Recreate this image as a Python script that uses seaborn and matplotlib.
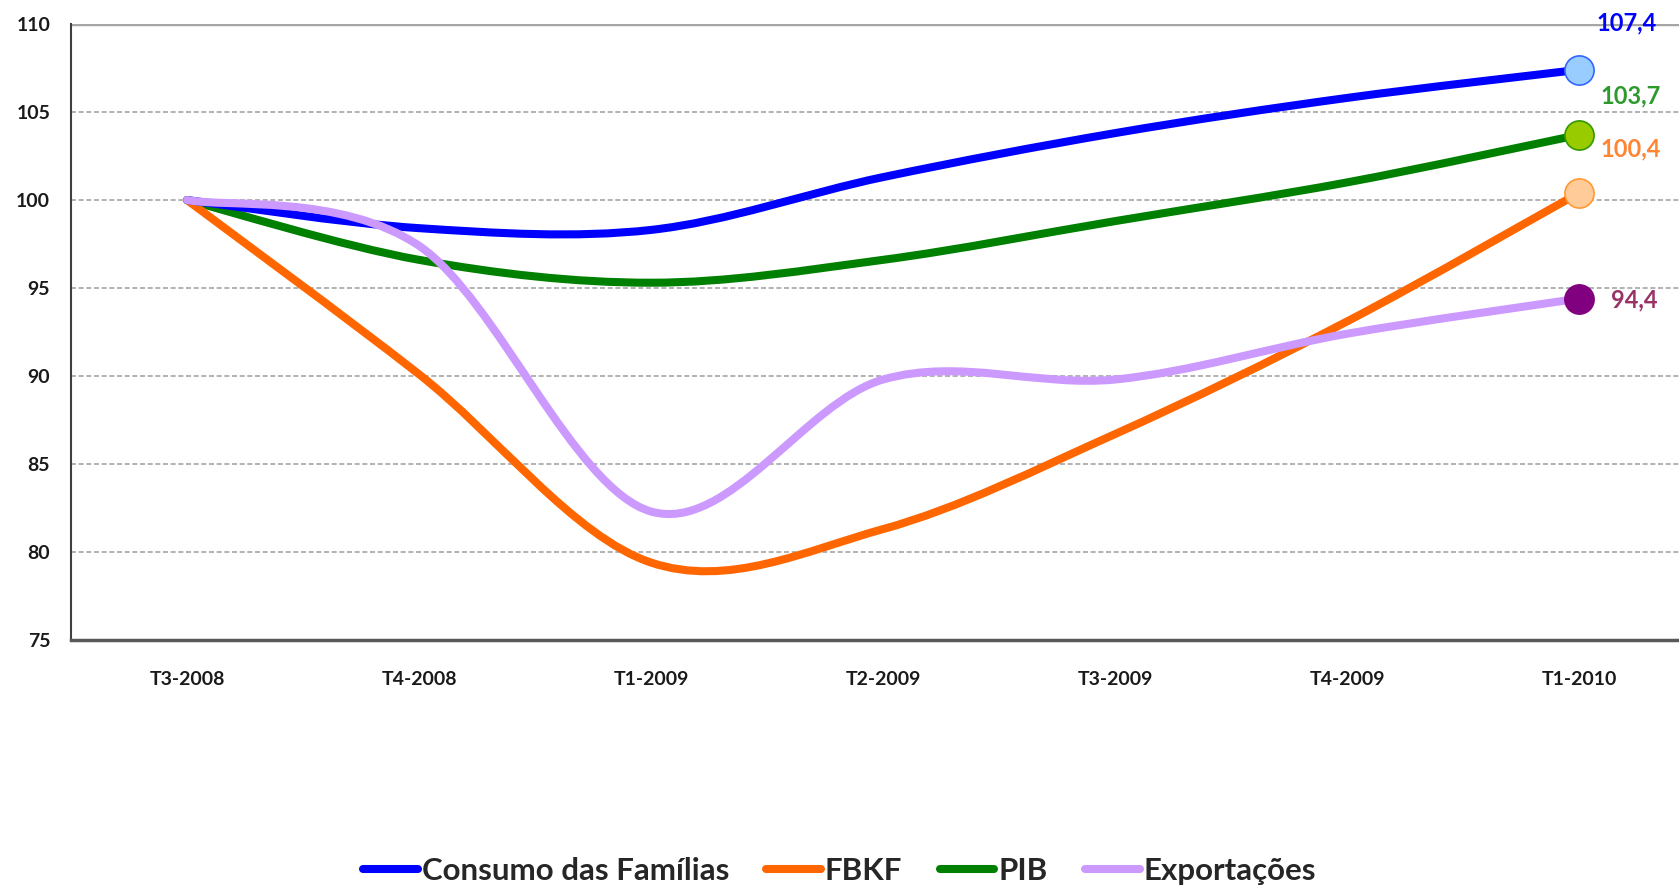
import numpy as np
import pandas as pd
import seaborn as sns
import matplotlib.pyplot as plt
from matplotlib.path import Path
from matplotlib.patches import PathPatch
from matplotlib.lines import Line2D
from matplotlib import font_manager

quarters = ['T3-2008', 'T4-2008', 'T1-2009', 'T2-2009', 'T3-2009', 'T4-2009', 'T1-2010']
consumo = [100.0, 98.4, 98.3, 101.3, 103.8, 105.8, 107.4]
fbkf = [100.0, 90.1, 79.4, 81.3, 86.7, 93.1, 100.4]
pib = [100.0, 96.6, 95.3, 96.6, 98.8, 101.0, 103.7]
exportacoes = [100.0, 97.4, 82.3, 89.8, 89.8, 92.4, 94.4]
series_names = ['Consumo das Famílias', 'FBKF', 'PIB', 'Exportações']
end_labels = ['107,4', '100,4', '103,7', '94,4']

sns.set_theme(style='white')
names = {f.name for f in font_manager.fontManager.ttflist}
fam = 'Lato' if 'Lato' in names else 'DejaVu Sans'
plt.rcParams['font.family'] = [fam, 'DejaVu Sans']

df = pd.DataFrame({'quarter': quarters, series_names[0]: consumo, series_names[1]: fbkf,
                   series_names[2]: pib, series_names[3]: exportacoes})

line_colors = ['#0000FF', '#FF6600', '#008000', '#CC99FF']
face_colors = ['#99CCFF', '#FFCC99', '#99CC00', '#800080']
edge_colors = ['#3366FF', '#FF9933', '#339900', '#800080']
label_colors = ['#0000FF', '#FF8533', '#2E9A2E', '#993366']
label_offsets = [(34, 34), (37, 32), (37, 28), (40, -1)]


def smooth_path(xs, ys):
    # bezier segments like a spreadsheet "smoothed line"
    pts = np.column_stack([xs, ys]).astype(float)
    n = len(pts)
    verts = [pts[0]]
    codes = [Path.MOVETO]
    for i in range(n - 1):
        p0 = pts[max(i - 1, 0)]
        p1 = pts[i]
        p2 = pts[i + 1]
        p3 = pts[min(i + 2, n - 1)]
        c1 = p1 + (p2 - p0) / 6.0
        c2 = p2 - (p3 - p1) / 6.0
        verts += [c1, c2, p2]
        codes += [Path.CURVE4] * 3
    return Path(verts, codes)


fig = plt.figure(figsize=(16.79, 8.85), dpi=100)
ax = fig.add_axes([71 / 1679, 245 / 885, 1624 / 1679, 616 / 885])

x = np.arange(len(quarters))
for k in [3, 2, 1, 0]:
    name = series_names[k]
    p = smooth_path(x, df[name].values)
    ax.add_patch(PathPatch(p, facecolor='none', edgecolor=line_colors[k],
                           lw=5.8, capstyle='round', joinstyle='round', zorder=3 + (k == 3) * 0.5))

for k, name in enumerate(series_names):
    xv, yv = x[-1], df[name].values[-1]
    ax.plot([xv], [yv], 'o', ms=21, mfc=face_colors[k], mec=edge_colors[k], mew=1.2, zorder=5)
    ax.annotate(end_labels[k], (xv, yv), xytext=label_offsets[k], textcoords='offset points',
                ha='center', va='center', fontsize=17, fontweight='bold', color=label_colors[k])

ax.set_xlim(-0.5, 6.5)
ax.set_ylim(75, 110)
ax.set_yticks(np.arange(75, 111, 5))
ax.set_yticklabels([str(v) for v in range(75, 111, 5)])
for v in range(80, 110, 5):
    ax.axhline(v, color='#A6A6A6', lw=1.2, ls=(0, (3, 1.6)), zorder=1)
ax.axhline(110, color='#A6A6A6', lw=2.5, zorder=1)

ax.set_xticks(x)
ax.set_xticklabels(quarters)
ax.set_xticks(np.arange(-0.5, 6.6, 1), minor=True)
ax.tick_params(axis='x', which='major', length=0, pad=22, labelsize=14)
ax.tick_params(axis='x', which='minor', length=5, width=1.5, color='#404040', direction='out')
ax.tick_params(axis='y', length=5, width=1.5, color='#404040', direction='out', pad=10, labelsize=14)
for lab in ax.get_xticklabels() + ax.get_yticklabels():
    lab.set_fontweight('bold')
    lab.set_color('#1A1A1A')

for s in ['top', 'right']:
    ax.spines[s].set_visible(False)
ax.spines['left'].set_color('#404040')
ax.spines['left'].set_linewidth(1.5)
ax.spines['bottom'].set_color('#595959')
ax.spines['bottom'].set_linewidth(2.5)

handles = [Line2D([0], [0], color=c, lw=5.8) for c in line_colors]
fig.legend(handles, series_names, loc='center', bbox_to_anchor=(0.5, 1 - 871 / 885),
           ncol=4, frameon=False, handlelength=1.75, handletextpad=0.12, columnspacing=1.2,
           prop={'weight': 'bold', 'size': 22.5})

fig.savefig('out.png', dpi=100)
